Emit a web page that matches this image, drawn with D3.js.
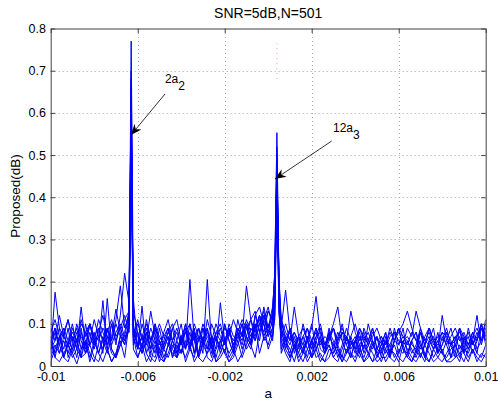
<!DOCTYPE html>
<html>
<head>
<meta charset="utf-8">
<script src="https://cdn.jsdelivr.net/npm/d3@7"></script>
<style>
body { margin: 0; background: #fff; }
text { font-family: "Liberation Sans", Arial, Helvetica, sans-serif; fill: #000; }
</style>
</head>
<body>
<svg id="chart" width="498" height="403"></svg>
<script>
// sample positions: step 0.0002 plus a few extra points at the two peaks
var aGrid = d3.range(101).map(i => +(-0.01 + 0.0002 * i).toFixed(5))
  .concat([-0.0063, 0.0003, 0.0005])
  .sort(d3.ascending);

// 12 trials, 104 values each
var s1 = [.03,.175,.09,.02,.01,.04,.06,.02,.03,.05,.02,.01,.04,.07,.03,.02,.05,.08,.13,
  .77,
  .16,.04,.142,.03,.01,.05,.02,.01,.03,.06,.02,.04,.02,.05,.01,.03,.07,.02,.01,.04,.06,.03,.01,.02,.05,.08,.04,.06,.10,.03,.07,.05,.09,
  .18,.45,.13,
  .06,.03,.01,.05,.02,.04,.01,.03,.06,.02,.01,.04,.03,.05,.02,.01,.03,.01,.04,.02,.05,.03,.01,.02,.02,.04,.03,.01,.05,.02,.01,.03,.06,.02,.01,.04,.02,.01,.03,.05,.02,.03,.04,.03,.06,.12,.05,.09];
var s2 = [.02,.05,.03,.06,.03,.07,.04,.14,.05,.02,.06,.03,.01,.04,.01,.03,.06,.02,.10,
  .70,
  .07,.02,.05,.01,.03,.02,.06,.04,.02,.05,.03,.07,.04,.205,.06,.02,.01,.03,.05,.01,.02,.04,.01,.03,.06,.02,.05,.09,.07,.12,.06,.08,.13,
  .22,.553,.19,
  .09,.04,.02,.05,.01,.03,.06,.02,.04,.01,.03,.05,.02,.01,.04,.07,.03,.02,.05,.01,.03,.01,.02,.04,.01,.03,.05,.02,.01,.03,.01,.04,.02,.05,.03,.01,.02,.04,.01,.02,.03,.01,.05,.02,.04,.01,.03,.02];
var s3 = [.06,.02,.01,.03,.05,.02,.04,.02,.06,.03,.01,.05,.155,.04,.01,.03,.07,.05,.10,
  .66,
  .05,.08,.03,.06,.02,.01,.04,.01,.05,.03,.02,.06,.01,.04,.02,.07,.03,.205,.05,.01,.03,.06,.02,.04,.01,.03,.07,.05,.02,.08,.10,.04,.07,
  .12,.50,.15,
  .04,.07,.02,.05,.03,.01,.04,.06,.02,.03,.01,.02,.05,.03,.01,.04,.02,.06,.03,.01,.02,.05,.03,.01,.04,.02,.01,.03,.06,.04,.02,.01,.03,.01,.05,.02,.04,.03,.01,.01,.02,.05,.03,.01,.04,.02,.01,.03];
var s4 = [.01,.04,.07,.02,.05,.03,.005,.04,.06,.01,.05,.07,.03,.16,.04,.02,.05,.07,.08,
  .62,
  .04,.02,.05,.08,.03,.06,.01,.04,.07,.02,.05,.03,.06,.04,.09,.02,.05,.03,.07,.04,.15,.06,.03,.05,.08,.04,.07,.05,.10,.06,.12,.08,.07,
  .14,.48,.17,
  .03,.06,.04,.01,.05,.03,.07,.02,.04,.06,.03,.05,.02,.04,.01,.03,.06,.04,.02,.05,.03,.01,.04,.06,.03,.05,.02,.04,.03,.06,.04,.02,.05,.03,.01,.04,.06,.03,.02,.04,.05,.03,.01,.04,.06,.03,.02,.05];
var s5 = [.07,.03,.06,.09,.02,.05,.10,.06,.03,.08,.04,.09,.06,.03,.07,.135,.08,.05,.10,
  .58,
  .09,.05,.03,.08,.04,.10,.06,.02,.05,.09,.03,.06,.10,.04,.08,.03,.09,.06,.02,.07,.04,.10,.06,.03,.09,.07,.19,.11,.13,.08,.14,.09,.12,
  .22,.52,.14,
  .11,.06,.09,.03,.07,.05,.02,.06,.09,.04,.03,.08,.06,.02,.05,.09,.06,.03,.07,.04,.10,.06,.03,.05,.08,.02,.06,.09,.04,.03,.06,.08,.05,.02,.06,.09,.03,.05,.08,.06,.03,.09,.05,.07,.03,.06,.10,.05];
var s6 = [.05,.09,.03,.07,.11,.06,.02,.08,.04,.10,.06,.03,.07,.04,.10,.05,.12,.22,.15,
  .55,
  .13,.08,.04,.11,.06,.03,.09,.04,.07,.02,.06,.10,.04,.08,.03,.09,.06,.04,.10,.07,.03,.06,.09,.04,.11,.07,.10,.05,.12,.08,.11,.14,.09,
  .17,.44,.21,
  .09,.18,.08,.04,.07,.03,.06,.10,.04,.07,.03,.06,.09,.04,.02,.07,.05,.06,.03,.09,.06,.04,.07,.02,.06,.03,.09,.05,.07,.06,.03,.05,.09,.02,.06,.04,.08,.03,.06,.09,.05,.02,.07,.04,.06,.03,.09,.06];
var s7 = [.04,.08,.05,.02,.06,.10,.04,.09,.03,.06,.11,.07,.04,.09,.06,.11,.19,.09,.12,
  .60,
  .10,.04,.07,.03,.06,.09,.02,.05,.08,.10,.06,.03,.09,.04,.07,.02,.06,.09,.03,.07,.04,.10,.06,.03,.08,.05,.09,.11,.06,.10,.13,.07,.11,
  .15,.40,.13,
  .08,.05,.03,.07,.04,.10,.06,.09,.165,.07,.04,.09,.03,.06,.10,.05,.02,.06,.08,.03,.06,.09,.04,.03,.07,.02,.06,.05,.09,.03,.06,.08,.02,.05,.09,.06,.03,.07,.05,.02,.06,.09,.03,.05,.08,.04,.06,.10];
var s8 = [.06,.02,.07,.04,.09,.03,.06,.02,.10,.05,.08,.03,.06,.09,.04,.02,.07,.06,.09,
  .52,
  .07,.04,.10,.06,.13,.07,.03,.06,.09,.04,.02,.07,.04,.10,.03,.06,.09,.04,.07,.02,.06,.03,.09,.04,.07,.10,.06,.04,.09,.12,.07,.10,.06,
  .12,.47,.17,
  .07,.04,.09,.06,.03,.07,.04,.02,.06,.09,.04,.07,.10,.14,.06,.03,.07,.04,.09,.06,.03,.06,.02,.05,.08,.03,.06,.09,.04,.02,.06,.03,.08,.05,.09,.06,.03,.05,.08,.02,.05,.07,.03,.09,.05,.08,.06,.11];
var s9 = [.09,.06,.12,.07,.05,.09,.06,.11,.07,.10,.05,.08,.12,.07,.06,.10,.07,.11,.13,
  .68,
  .07,.11,.06,.09,.04,.07,.10,.07,.05,.09,.11,.06,.08,.05,.10,.07,.06,.09,.04,.08,.10,.06,.09,.05,.08,.11,.09,.06,.12,.14,.10,.13,.11,
  .18,.42,.20,
  .11,.08,.06,.14,.07,.05,.09,.04,.07,.10,.05,.08,.04,.07,.09,.06,.13,.08,.05,.07,.06,.09,.04,.07,.05,.08,.06,.09,.07,.05,.08,.06,.04,.07,.09,.06,.05,.08,.07,.05,.06,.09,.07,.05,.08,.06,.10,.07];
var s10 = [.06,.09,.05,.08,.11,.06,.09,.04,.08,.10,.06,.11,.08,.05,.10,.06,.09,.12,.08,
  .50,
  .06,.10,.07,.05,.09,.06,.04,.08,.11,.06,.09,.05,.08,.10,.06,.09,.05,.11,.07,.06,.09,.05,.10,.07,.06,.10,.07,.11,.08,.12,.10,.07,.09,
  .11,.38,.12,
  .07,.10,.06,.08,.05,.07,.09,.06,.08,.05,.07,.06,.09,.05,.08,.07,.04,.06,.09,.07,.05,.08,.06,.07,.05,.09,.06,.08,.10,.13,.09,.06,.08,.05,.07,.04,.06,.08,.05,.07,.09,.06,.08,.05,.07,.06,.09,.07];
var s11 = [.08,.11,.07,.09,.06,.04,.08,.07,.05,.10,.07,.06,.09,.07,.05,.08,.10,.07,.12,
  .64,
  .08,.05,.07,.10,.06,.09,.07,.05,.08,.06,.04,.07,.09,.05,.08,.06,.10,.07,.05,.08,.06,.09,.07,.11,.08,.06,.10,.07,.09,.11,.08,.13,.11,
  .19,.49,.15,
  .09,.06,.08,.05,.07,.09,.06,.04,.07,.08,.05,.07,.09,.06,.08,.05,.07,.10,.06,.08,.05,.07,.09,.06,.04,.07,.08,.06,.05,.09,.07,.13,.09,.06,.08,.05,.07,.06,.09,.05,.07,.08,.06,.04,.07,.09,.06,.08];
var s12 = [.04,.06,.09,.07,.05,.08,.06,.10,.08,.05,.07,.09,.06,.08,.11,.07,.09,.06,.10,
  .57,
  .09,.07,.05,.08,.06,.10,.05,.07,.09,.06,.08,.05,.10,.06,.07,.09,.05,.08,.06,.10,.07,.05,.08,.06,.09,.07,.11,.08,.06,.10,.12,.09,.14,
  .21,.46,.19,
  .10,.07,.05,.08,.06,.04,.07,.05,.09,.06,.04,.07,.05,.08,.06,.03,.05,.07,.04,.06,.08,.05,.07,.04,.06,.05,.08,.03,.06,.07,.05,.04,.08,.06,.05,.07,.04,.12,.06,.05,.07,.04,.06,.08,.05,.07,.10,.06];

var series = [s1, s2, s3, s4, s5, s6, s7, s8, s9, s10, s11, s12];
series.forEach(function(s, k) {
  if (s.length != aGrid.length) throw new Error("series " + (k + 1) + " has " + s.length + " values");
});

// true positions (faint red dotted tops)
var trueA = [-0.0063, 0.0004];
var trueTop = [0.77, 0.77];
var trueBottom = [0.68, 0.68];

var xTicks = [-0.01, -0.006, -0.002, 0.002, 0.006, 0.01];
var xTickLabels = ["-0.01", "-0.006", "-0.002", "0.002", "0.006", "0.01"];
var yTicks = [0, 0.1, 0.2, 0.3, 0.4, 0.5, 0.6, 0.7, 0.8];
var yTickLabels = ["0", "0.1", "0.2", "0.3", "0.4", "0.5", "0.6", "0.7", "0.8"];

// annotations
var annoText = ["2a", "12a"];
var annoSub = ["2", "3"];
var annoTextA = [-0.00475, 0.00298];
var annoTextV = [0.670, 0.5546];
var tailA = [-0.004745, 0.00292];
var tailV = [0.6447, 0.5333];
var tipA = [-0.006308, 0.000313];
var tipV = [0.5475, 0.4432];

var svg = d3.select("#chart");
var x = d3.scaleLinear().domain([-0.01, 0.01]).range([50.7, 485.7]);
var y = d3.scaleLinear().domain([0, 0.8]).range([366, 28.5]);

svg.append("defs").append("clipPath").attr("id", "plotclip")
  .append("rect")
  .attr("x", x(-0.01)).attr("y", y(0.8))
  .attr("width", x(0.01) - x(-0.01)).attr("height", y(0) - y(0.8));

// grid
var grid = svg.append("g").attr("class", "grid")
  .attr("stroke", "#a8a8a8").attr("stroke-width", 1).attr("stroke-dasharray", "1,3");
grid.selectAll(".gx").data(xTicks.slice(1, -1)).enter().append("line")
  .attr("x1", d => Math.round(x(d)) + 0.5).attr("x2", d => Math.round(x(d)) + 0.5)
  .attr("y1", y(0)).attr("y2", y(0.8));
grid.selectAll(".gy").data(yTicks.slice(1, -1)).enter().append("line")
  .attr("y1", d => Math.round(y(d)) + 0.5).attr("y2", d => Math.round(y(d)) + 0.5)
  .attr("x1", x(-0.01)).attr("x2", x(0.01));

var plot = svg.append("g").attr("clip-path", "url(#plotclip)");

plot.selectAll(".truth").data(trueA).enter().append("line")
  .attr("x1", d => x(d)).attr("x2", d => x(d))
  .attr("y1", (d, i) => y(trueBottom[i])).attr("y2", (d, i) => y(trueTop[i]))
  .attr("stroke", "#ff3030").attr("stroke-opacity", 0.5)
  .attr("stroke-width", 1).attr("stroke-dasharray", "1,4");

var line = d3.line()
  .x((d, i) => x(aGrid[i]))
  .y(d => y(d));

plot.selectAll(".trial").data(series).enter().append("path")
  .attr("class", "trial")
  .attr("fill", "none")
  .attr("stroke", "#0000ff")
  .attr("stroke-width", 1)
  .attr("d", line);

// axes, MATLAB style box with inward ticks
function styleAxis(g) {
  g.selectAll(".domain").attr("stroke", "#404040");
  g.selectAll(".tick line").attr("stroke", "#404040");
  g.selectAll(".tick text").attr("font-size", 12.5).attr("fill", "#000");
  g.attr("font-family", null);
}
svg.append("g").attr("transform", "translate(0," + y(0) + ")")
  .call(d3.axisBottom(x).tickValues(xTicks).tickFormat((d, i) => xTickLabels[i])
    .tickSizeInner(-4.5).tickSizeOuter(0).tickPadding(5.8))
  .call(styleAxis);
svg.append("g").attr("transform", "translate(0," + y(0.8) + ")")
  .call(d3.axisTop(x).tickValues(xTicks).tickFormat("").tickSizeInner(-4.5).tickSizeOuter(0))
  .call(styleAxis);
svg.append("g").attr("transform", "translate(" + x(-0.01) + ",0)")
  .call(d3.axisLeft(y).tickValues(yTicks).tickFormat((d, i) => yTickLabels[i])
    .tickSizeInner(-4.5).tickSizeOuter(0).tickPadding(4.8))
  .call(styleAxis);
svg.append("g").attr("transform", "translate(" + x(0.01) + ",0)")
  .call(d3.axisRight(y).tickValues(yTicks).tickFormat("").tickSizeInner(-4.5).tickSizeOuter(0))
  .call(styleAxis);

// titles
svg.append("text").attr("x", (x(-0.01) + x(0.01)) / 2).attr("y", 17.5)
  .attr("text-anchor", "middle").attr("font-size", 14).text("SNR=5dB,N=501");
svg.append("text").attr("x", (x(-0.01) + x(0.01)) / 2).attr("y", 397.5)
  .attr("text-anchor", "middle").attr("font-size", 13.5).text("a");
svg.append("text")
  .attr("transform", "translate(19.5,196) rotate(-90)")
  .attr("text-anchor", "middle").attr("font-size", 13.5).text("Proposed(dB)");

// arrows
var arrows = svg.append("g");
annoText.forEach(function(t, i) {
  var x0 = x(tailA[i]), y0 = y(tailV[i]), x1 = x(tipA[i]), y1 = y(tipV[i]);
  var ang = Math.atan2(y1 - y0, x1 - x0) * 180 / Math.PI;
  arrows.append("line")
    .attr("x1", x0).attr("y1", y0).attr("x2", x1).attr("y2", y1)
    .attr("stroke", "#000").attr("stroke-width", 0.8);
  arrows.append("path")
    .attr("d", "M0,0L-11,-4.5L-7.5,0L-11,4.5Z")
    .attr("fill", "#000")
    .attr("transform", "translate(" + x1 + "," + y1 + ") rotate(" + ang + ")");
  var tx = arrows.append("text")
    .attr("x", x(annoTextA[i])).attr("y", y(annoTextV[i]))
    .attr("font-size", 12);
  tx.append("tspan").text(t);
  tx.append("tspan").attr("dy", 6.5).attr("font-size", 12).text(annoSub[i]);
});
</script>
</body>
</html>
